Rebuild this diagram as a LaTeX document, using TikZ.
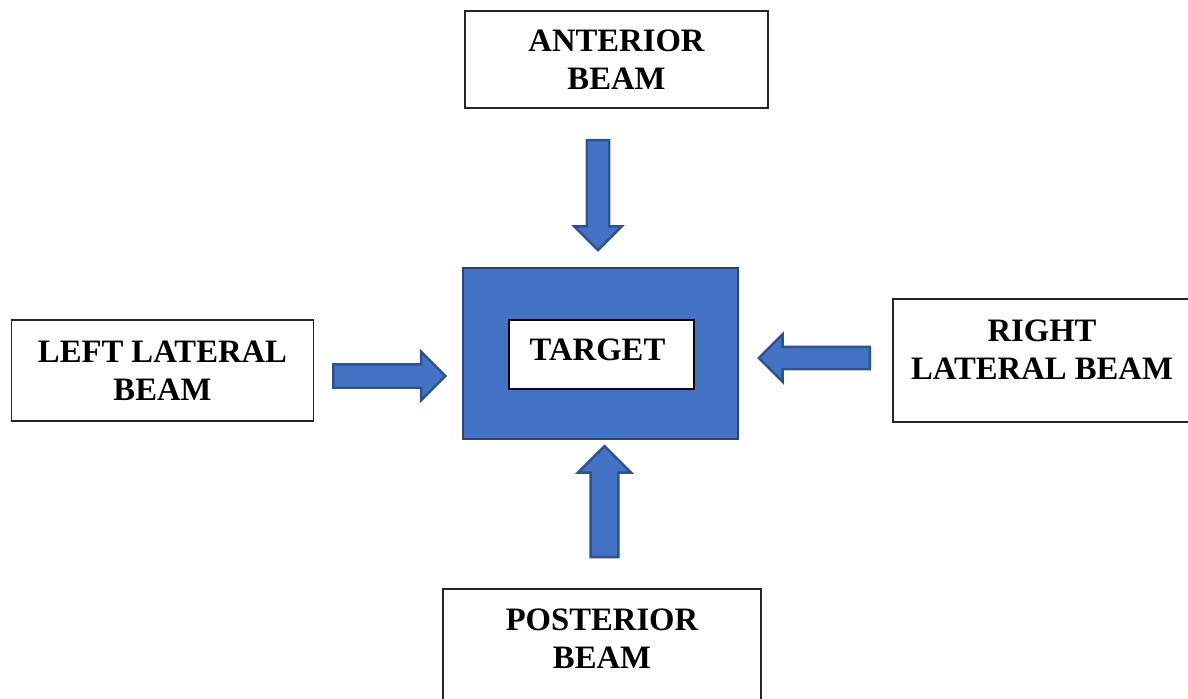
\documentclass[tikz,border=0pt]{standalone}
\usepackage{fontspec}
\setmainfont{Liberation Serif}
\usepackage{tikz}
\usetikzlibrary{shapes.arrows, positioning}
\definecolor{beamblue}{HTML}{4472C4}
\definecolor{beamedge}{HTML}{2F528F}
\definecolor{targetedge}{HTML}{2B4673}
\tikzstyle{box} = [draw=black!85, line width=1.1pt, rectangle, fill=white]
\tikzstyle{label} = [align=center, font=\bfseries\fontsize{18.6}{21.6}\selectfont, inner sep=0pt]
\tikzstyle{beam} = [single arrow, draw=beamedge, fill=beamblue, line width=1.4pt, single arrow tip angle=90]

\begin{document}
\begin{tikzpicture}[x=0.02cm, y=-0.02cm]
    \useasboundingbox (0,0) rectangle (1188,698);
    \clip (0,0) rectangle (1188,698);

    % Target.
    \node (target) [rectangle, draw=targetedge, fill=beamblue, line width=1.2pt, minimum width=5.5cm, minimum height=3.42cm] at (600.5,353.5) {};
    \node (target box) [box, draw=black, line width=1.5pt, minimum width=3.7cm, minimum height=1.38cm, xshift=0.02cm, yshift=-0.02cm] at (target.center) {};
    \node (target text) [label, xshift=-0.08cm, yshift=0.1cm] at (target box.center) {TARGET};

    % Beam boxes.
    \node (anterior) [box, minimum width=6.06cm, minimum height=1.94cm] at (616.5,59.5) {};
    \node (left) [box, minimum width=6.04cm, minimum height=2.02cm] at (162.5,370.5) {};
    \node (right) [box, minimum width=6.14cm, minimum height=2.46cm] at (1046.5,360.5) {};
    \node (posterior) [box, minimum width=6.36cm, minimum height=2.42cm] at (602,649.5) {};

    % Labels.
    \node (anterior text) [label] at (anterior.center) {ANTERIOR\\BEAM};
    \node (left text) [label] at (left.center) {LEFT LATERAL\\BEAM};
    \node (right text) [label, xshift=-0.09cm, yshift=0.22cm] at (right.center) {RIGHT\\LATERAL BEAM};
    \node (posterior text) [label, yshift=0.21cm] at (posterior.center) {POSTERIOR\\BEAM};

    % Beams.
    \node (anterior beam) [beam, shape border rotate=270, inner xsep=0.2cm, inner ysep=0pt, minimum width=0.86cm, minimum height=2.2cm] at (598,189.5) {};
    \node (left beam) [beam, inner xsep=0pt, inner ysep=0.21cm, minimum width=0.84cm, minimum height=2.24cm] at (383.5,376) {};
    \node (right beam) [beam, shape border rotate=180, inner xsep=0pt, inner ysep=0.2cm, minimum width=0.84cm, minimum height=2.22cm] at (820,358) {};
    \node (posterior beam) [beam, shape border rotate=90, inner xsep=0.25cm, inner ysep=0pt, minimum width=1.06cm, minimum height=2.22cm] at (604.5,508.5) {};
\end{tikzpicture}
\end{document}
